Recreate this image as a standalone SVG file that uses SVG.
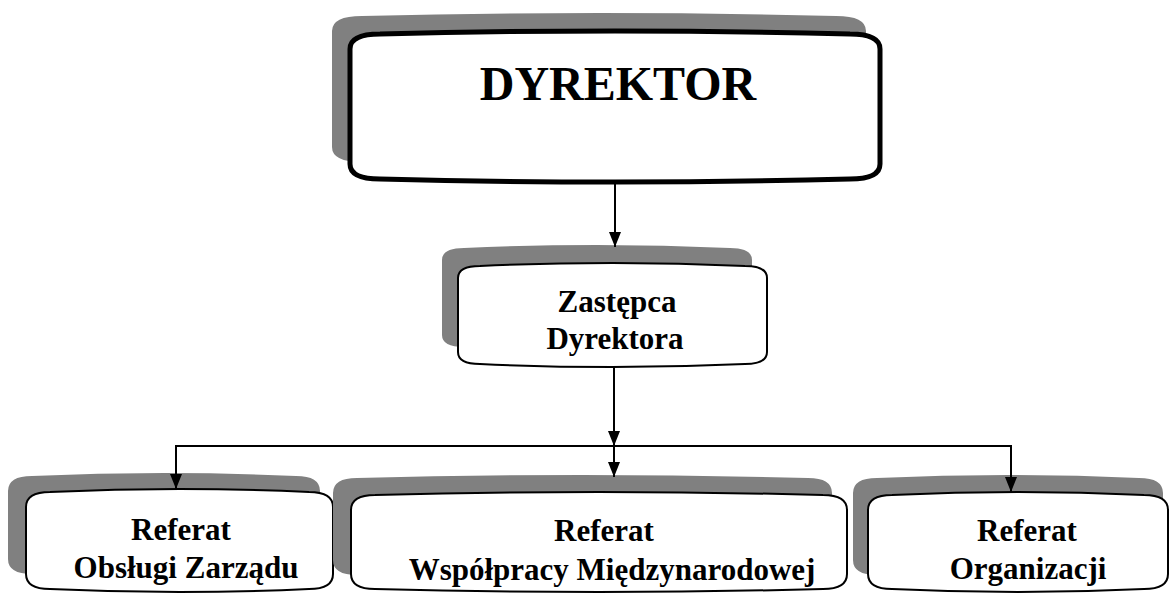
<svg xmlns="http://www.w3.org/2000/svg" width="1170" height="594" viewBox="0 0 1170 594">
<style>
.shadow{fill:#808080;stroke:none}
.box{fill:#ffffff;stroke:#000000;stroke-width:2}
.boxthick{fill:#ffffff;stroke:#000000;stroke-width:5}
.t{font-family:"Liberation Serif","Times New Roman",serif;font-weight:bold;fill:#000000;text-anchor:middle}
.conn{stroke:#000000;stroke-width:2;fill:none}
</style>
<defs>
<marker id="arr" markerUnits="userSpaceOnUse" markerWidth="15" markerHeight="12" refX="15" refY="6" orient="auto">
<path d="M0,0 L15,6 L0,12 z" fill="#000000"/>
</marker>
</defs>
<rect width="1170" height="594" fill="#ffffff"/>
<g id="dyrektor">
<path class="shadow" d="M332,31 Q332,16 362,16 Q599,10 836,16 Q866,16 866,31 L866,147 Q866,162 836,162 Q599,168 362,162 Q332,162 332,147 Z"/>
<path class="boxthick" d="M350,49 Q350,34 380,34 Q615,28 850,34 Q880,34 880,49 L880,164 Q880,179 850,179 Q615,185 380,179 Q350,179 350,164 Z"/>
<text class="t" x="618" y="100" font-size="48">DYREKTOR</text>
</g>
<g id="zastepca">
<path class="shadow" d="M442,260 Q442,248 464,248 Q597,242 730,248 Q752,248 752,260 L752,335 Q752,347 730,347 Q597,353 464,347 Q442,347 442,335 Z"/>
<path class="box" d="M458,278 Q458,266 480,266 Q612.5,260 745,266 Q767,266 767,278 L767,352 Q767,364 745,364 Q612.5,370 480,364 Q458,364 458,352 Z"/>
<text class="t" x="617" y="312" font-size="31">Zastępca</text>
<text class="t" x="615" y="349" font-size="31">Dyrektora</text>
</g>
<g id="referat-obslugi">
<path class="shadow" d="M8,491 Q8,476 32,476 Q164,470 296,476 Q320,476 320,491 L320,559 Q320,574 296,574 Q164,580 32,574 Q8,574 8,559 Z"/>
<path class="box" d="M26,507 Q26,492 50,492 Q179.5,486 309,492 Q333,492 333,507 L333,574 Q333,589 309,589 Q179.5,595 50,589 Q26,589 26,574 Z"/>
<text class="t" x="181" y="540" font-size="31">Referat</text>
<text class="t" x="186" y="578" font-size="31">Obsługi Zarządu</text>
</g>
<g id="referat-wspolpracy">
<path class="shadow" d="M333,493 Q333,478 357,478 Q582.5,472 808,478 Q832,478 832,493 L832,560 Q832,575 808,575 Q582.5,581 357,575 Q333,575 333,560 Z"/>
<path class="box" d="M351,510 Q351,495 375,495 Q599,489 823,495 Q847,495 847,510 L847,574 Q847,589 823,589 Q599,595 375,589 Q351,589 351,574 Z"/>
<text class="t" x="604" y="541" font-size="31">Referat</text>
<text class="t" x="612" y="580" font-size="31">Współpracy Międzynarodowej</text>
</g>
<g id="referat-organizacji">
<path class="shadow" d="M853,493 Q853,478 877,478 Q1008,472 1139,478 Q1163,478 1163,493 L1163,560 Q1163,575 1139,575 Q1008,581 877,575 Q853,575 853,560 Z"/>
<path class="box" d="M868,510 Q868,495 892,495 Q1018,489 1144,495 Q1168,495 1168,510 L1168,574 Q1168,589 1144,589 Q1018,595 892,589 Q868,589 868,574 Z"/>
<text class="t" x="1027" y="541" font-size="31">Referat</text>
<text class="t" x="1028" y="579" font-size="31">Organizacji</text>
</g>
<g id="connectors">
<line class="conn" x1="615" y1="184" x2="615" y2="247" marker-end="url(#arr)"/>
<line class="conn" x1="614" y1="367" x2="614" y2="446" marker-end="url(#arr)"/>
<line class="conn" x1="176" y1="446" x2="1011" y2="446"/>
<line class="conn" x1="614" y1="446" x2="614" y2="477" marker-end="url(#arr)"/>
<line class="conn" x1="176" y1="445" x2="176" y2="489" marker-end="url(#arr)"/>
<line class="conn" x1="1011" y1="445" x2="1011" y2="492" marker-end="url(#arr)"/>
</g>
</svg>
